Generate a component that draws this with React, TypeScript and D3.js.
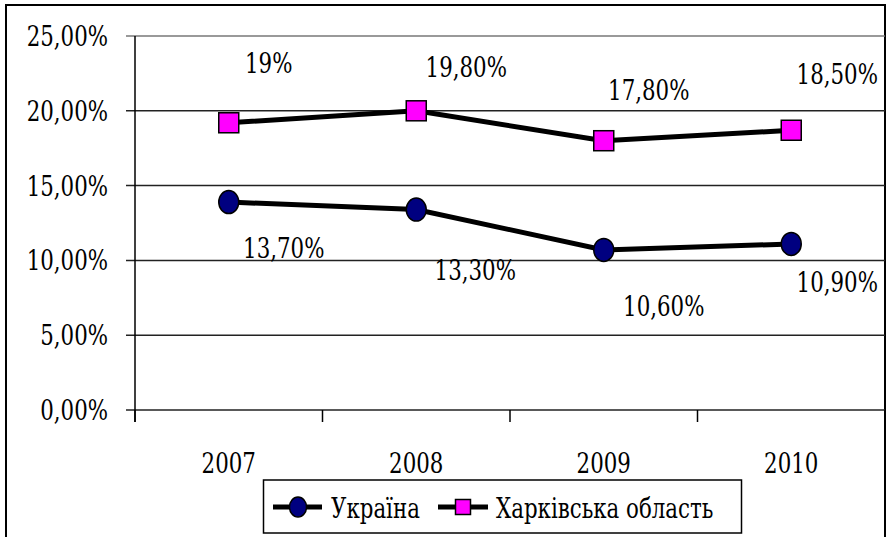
import React from "react";
import * as d3 from "d3";

const years: string[] = ["2007", "2008", "2009", "2010"];
const ukraine: number[] = [13.9, 13.4, 10.7, 11.1];
const kharkiv: number[] = [19.2, 20.0, 18.0, 18.7];
const ukraineLabels: string[] = ["13,70%", "13,30%", "10,60%", "10,90%"];
const kharkivLabels: string[] = ["19%", "19,80%", "17,80%", "18,50%"];
const yTicks: number[] = [0, 5, 10, 15, 20, 25];
const seriesNames: string[] = ["Україна", "Харківська область"];

// label offsets from their point (Excel put them by hand)
const ukraineLabelOff: [number, number][] = [[55, 56], [59, 70], [60, 66], [46, 48]];
const kharkivLabelOff: [number, number][] = [[40, -50], [50, -34], [45, -41], [46, -46]];

const W = 886, H = 537;
const margin = { top: 36, right: 1, bottom: 127, left: 135 };
const FONT = "'DejaVu Serif', serif";

function Txt(props: { x: number; y: number; anchor?: string; size?: number; children: React.ReactNode }) {
    const { x, y, anchor = "middle", size = 27 } = props;
    return <text
        transform={`translate(${x},${y}) scale(0.79,1)`}
        textAnchor={anchor}
        fontFamily={FONT}
        fontSize={size}
        fill="#000"
    >{props.children}</text>;
}

function Square(props: { x: number; y: number; s: number }) {
    const { x, y, s } = props;
    return <rect x={x - s / 2} y={y - s / 2} width={s} height={s} fill="#ff00ff" stroke="#000" strokeWidth={1.5} />;
}

function Dot(props: { x: number; y: number; rx: number; ry: number }) {
    return <ellipse cx={props.x} cy={props.y} rx={props.rx} ry={props.ry} fill="#000080" stroke="#000" strokeWidth={1.5} />;
}

export default function App() {
    const x0 = margin.left, x1 = W - margin.right;
    const y0 = H - margin.bottom, y1 = margin.top;

    const x = d3.scaleBand<string>().domain(years).range([x0, x1]);
    const y = d3.scaleLinear().domain([0, 25]).range([y0, y1]);
    const cx = (yr: string) => x(yr)! + x.bandwidth() / 2;

    const line = d3.line<number>()
        .x((_, i) => cx(years[i]))
        .y(v => y(v));

    const fmt = (v: number) => d3.format(".2f")(v).replace(".", ",") + "%";
    const boundaries: number[] = [...years.map(yr => x(yr)!), x1];

    return <svg width={W} height={H} style={{ position: "absolute", left: 0, top: 0, background: "#fff" }}>
        <rect x={6} y={5} width={879} height={545} fill="#fff" stroke="#000" strokeWidth={2} />

        {/* grid + y axis */}
        {yTicks.map(t => <g key={t}>
            <line x1={x0 - 9} x2={x1} y1={y(t)} y2={y(t)} stroke={t === 25 ? "#777" : "#222"} strokeWidth={1.5} />
            <Txt x={108} y={y(t) + 10} anchor="end">{fmt(t)}</Txt>
        </g>)}
        <line x1={x0} x2={x0} y1={y1} y2={y0 + 12} stroke="#000" strokeWidth={1.5} />
        {boundaries.map((b, i) => <line key={i} x1={b} x2={b} y1={y0} y2={y0 + 12} stroke="#000" strokeWidth={1.5} />)}
        {years.map(yr => <Txt key={yr} x={cx(yr)} y={y0 + 63}>{yr}</Txt>)}

        {/* series */}
        <path d={line(kharkiv)!} fill="none" stroke="#000" strokeWidth={5} />
        <path d={line(ukraine)!} fill="none" stroke="#000" strokeWidth={5} />
        {kharkiv.map((v, i) => <Square key={i} x={cx(years[i])} y={y(v)} s={20} />)}
        {ukraine.map((v, i) => <Dot key={i} x={cx(years[i])} y={y(v)} rx={10} ry={11.5} />)}

        {kharkiv.map((v, i) => <Txt key={i} x={cx(years[i]) + kharkivLabelOff[i][0]} y={y(v) + kharkivLabelOff[i][1]}>{kharkivLabels[i]}</Txt>)}
        {ukraine.map((v, i) => <Txt key={i} x={cx(years[i]) + ukraineLabelOff[i][0]} y={y(v) + ukraineLabelOff[i][1]}>{ukraineLabels[i]}</Txt>)}

        {/* legend */}
        <g>
            <rect x={263.5} y={480} width={478} height={53} fill="#fff" stroke="#000" strokeWidth={1.5} />
            <line x1={273} x2={322} y1={507} y2={507} stroke="#000" strokeWidth={5} />
            <Dot x={298} y={507} rx={8.5} ry={10} />
            <Txt x={331} y={518} anchor="start">{seriesNames[0]}</Txt>
            <line x1={438} x2={488} y1={507} y2={507} stroke="#000" strokeWidth={5} />
            <Square x={463} y={507} s={15} />
            <Txt x={496} y={518} anchor="start">{seriesNames[1]}</Txt>
        </g>
    </svg>;
}
